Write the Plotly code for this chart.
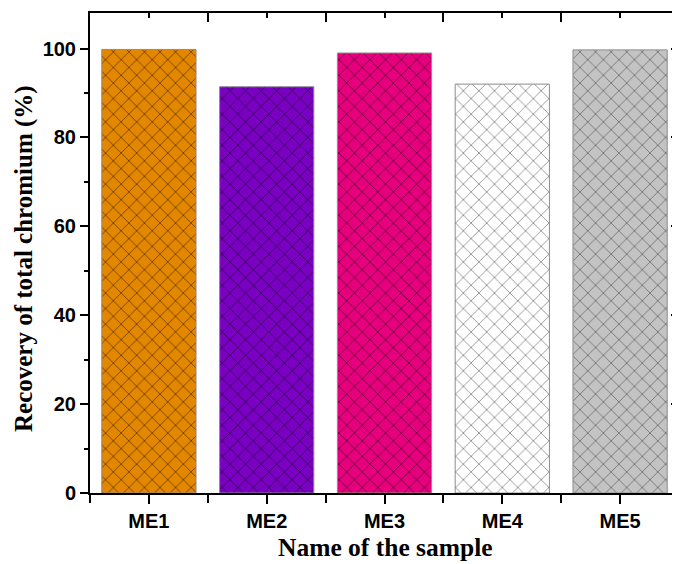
import plotly.graph_objects as go

samples = ["ME1", "ME2", "ME3", "ME4", "ME5"]
recovery = [99.8, 91.4, 99.0, 92.0, 99.7]
bar_colors = ["#E38600", "#7A00C2", "#E6007E", "#FFFFFF", "#C3C3C3"]
hatch_colors = ["#6E4000", "#36005A", "#6A003A", "#8C8C8C", "#707070"]

xpos = list(range(len(samples)))

# page body has an 8px default margin: the figure is shifted by 8px, so size it accordingly
OFF = 8
W, H = 680 - OFF, 564 - OFF

fig = go.Figure()
for i, s in enumerate(samples):
    fig.add_trace(go.Bar(
        x=[xpos[i]], y=[recovery[i]], width=0.8, name=s,
        marker=dict(
            color=bar_colors[i],
            line=dict(color="#8C8C8C", width=1),
            pattern=dict(shape="x", size=11, solidity=0.15, fgcolor=hatch_colors[i],
                         bgcolor=bar_colors[i], fillmode="replace"),
        ),
        showlegend=False, hoverinfo="skip",
    ))
fig.add_trace(go.Scatter(
    x=xpos, y=recovery, xaxis="x2", yaxis="y2", mode="markers",
    marker=dict(opacity=0), showlegend=False, hoverinfo="skip",
))

tickfont = dict(family="Liberation Sans, Arial", size=20, color="black")
xtitlefont = dict(family="Liberation Serif, Times New Roman", size=25.5, color="black")
ytitlefont = dict(family="Liberation Serif, Times New Roman", size=25, color="black")

plot_left, plot_right, plot_top, plot_bottom = 90 - OFF, 679 - OFF, 13 - OFF, 493 - OFF

fig.update_layout(
    width=W, height=H,
    margin=dict(l=plot_left, r=W - plot_right, t=plot_top, b=H - plot_bottom),
    paper_bgcolor="white", plot_bgcolor="white",
    barmode="overlay",
    xaxis=dict(
        range=[-0.5, 4.5], tickvals=xpos, ticktext=[f"<b>{s}</b>" for s in samples],
        ticks="outside", ticklen=9, tickwidth=1.5, tickcolor="black",
        minor=dict(tick0=0.5, dtick=1, ticks="outside", ticklen=8, tickwidth=1.5, tickcolor="black"),
        showline=True, linecolor="black", linewidth=2, showgrid=False, zeroline=False,
        tickfont=tickfont, automargin=False,
    ),
    yaxis=dict(
        range=[0, 108], tickvals=[0, 20, 40, 60, 80, 100],
        ticktext=["<b>0</b>", "<b>20</b>", "<b>40</b>", "<b>60</b>", "<b>80</b>", "<b>100</b>"],
        ticks="outside", ticklen=8, tickwidth=1.5, tickcolor="black",
        minor=dict(tick0=10, dtick=20, ticks="outside", ticklen=4, tickwidth=1.5, tickcolor="black"),
        showline=True, linecolor="black", linewidth=2, showgrid=False, zeroline=False,
        tickfont=tickfont, automargin=False,
    ),
    xaxis2=dict(
        overlaying="x", side="top", range=[-0.5, 4.5], tickvals=xpos, showticklabels=False,
        ticks="inside", ticklen=5, tickwidth=1.5, tickcolor="black",
        minor=dict(tick0=0.5, dtick=1, ticks="inside", ticklen=9, tickwidth=1.5, tickcolor="black"),
        showline=True, linecolor="black", linewidth=2, showgrid=False, zeroline=False,
        automargin=False,
    ),
    yaxis2=dict(
        overlaying="y", side="right", range=[0, 108], tickvals=[0, 20, 40, 60, 80, 100],
        showticklabels=False,
        ticks="inside", ticklen=8, tickwidth=1.5, tickcolor="black",
        minor=dict(tick0=10, dtick=20, ticks="inside", ticklen=4, tickwidth=1.5, tickcolor="black"),
        showline=True, linecolor="black", linewidth=1.5, showgrid=False, zeroline=False,
        automargin=False,
    ),
    annotations=[
        dict(text="<b>Name of the sample</b>", xref="paper", yref="paper",
             x=(385 - OFF - plot_left) / (plot_right - plot_left),
             y=-(547 - 493) / (plot_bottom - plot_top),
             xanchor="center", yanchor="middle", showarrow=False, font=xtitlefont),
        dict(text="<b>Recovery of total chromium (%)</b>", xref="paper", yref="paper",
             x=-(90 - 24) / (plot_right - plot_left),
             y=(493 - 259) / (plot_bottom - plot_top),
             xanchor="center", yanchor="middle", textangle=-90,
             showarrow=False, font=ytitlefont),
    ],
)

fig.write_html("out.html")
